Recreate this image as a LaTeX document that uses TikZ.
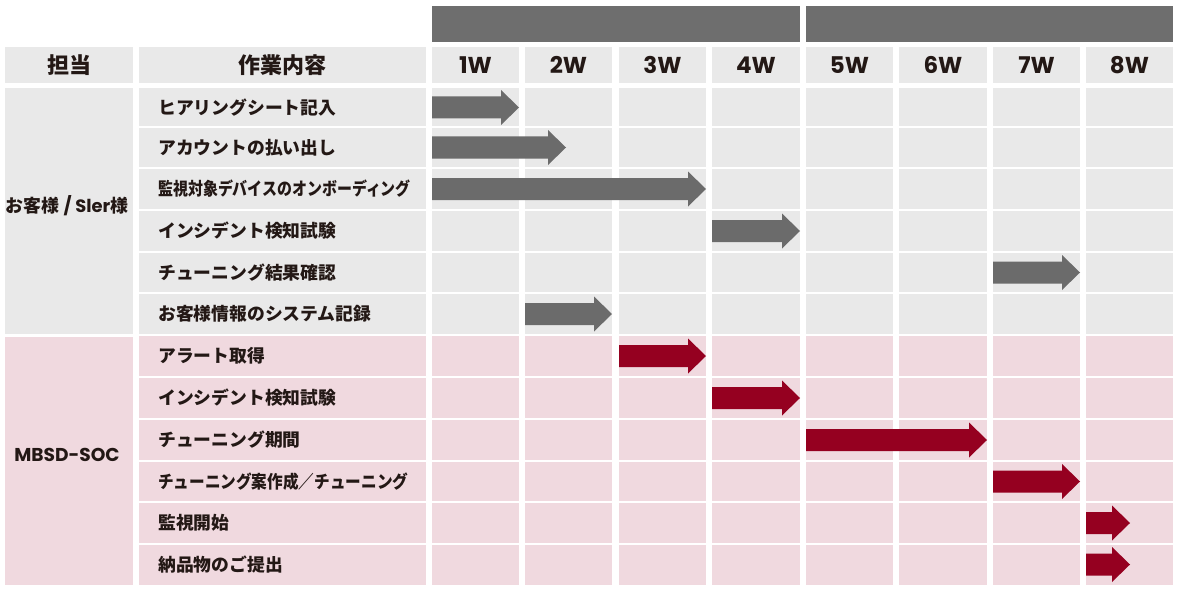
\documentclass[tikz,border=0pt]{standalone}
\usepackage{fontspec}
\usepackage{graphicx}
\setmainfont{Noto Sans CJK JP}
\newfontfamily\lat{Poppins}
\definecolor{cellgray}{HTML}{E9E9E9}
\definecolor{cellpink}{HTML}{F0D9DF}
\definecolor{bardark}{HTML}{6E6E6E}
\definecolor{arrgray}{HTML}{6B6B6B}
\definecolor{arrred}{HTML}{950020}
\definecolor{ink}{HTML}{231815}
\newcommand\garrow[4]{\fill[#1] (#3,#2-11) -- (#4-18,#2-11) -- (#4-18,#2-17.5) -- (#4,#2) -- (#4-18,#2+17.5) -- (#4-18,#2+11) -- (#3,#2+11) -- cycle;}
\tikzset{
  task/.style={anchor=west, inner sep=0pt, text=ink, font=\fontsize{17.8}{21}\selectfont\bfseries},
  head/.style={inner sep=0pt, text=ink, font=\fontsize{22}{26}\selectfont\bfseries},
  week/.style={inner sep=0pt, text=ink, font=\lat\fontsize{23}{26}\selectfont\bfseries},
  group/.style={inner sep=0pt, text=ink, font=\fontsize{17.9}{21}\selectfont\bfseries},
}
\begin{document}
\begin{tikzpicture}[x=1pt,y=-1pt]
\useasboundingbox (0,0) rectangle (1180,591);
\fill[white] (0,0) rectangle (1180,591);
% top bars
\fill[bardark] (432,6) rectangle (800,42);
\fill[bardark] (806,6) rectangle (1173,42);
% header cells
\foreach \a/\b in {5/133,139/426,432/519,525/612,619/706,712/800,806/893,899/987,993/1080,1086/1173}
  \fill[cellgray] (\a,47) rectangle (\b,83);
% body cells
\foreach \a/\b in {139/426,432/519,525/612,619/706,712/800,806/893,899/987,993/1080,1086/1173}{
  \fill[cellgray] (\a,88) rectangle (\b,335);
  \fill[cellpink] (\a,335) rectangle (\b,585);
}
\fill[cellgray] (5,88) rectangle (133,333.5);
\fill[cellpink] (5,336.5) rectangle (133,585);
\foreach \y in {127,168,210,252,293,377,419,461,502,544}
  \draw[white, line width=1.5pt] (139,\y) -- (1175,\y);
\draw[white, line width=2.5pt] (139,335) -- (1175,335);
% header texts
\node[head] (h1) at (69,65) {担当};
\node[head] (h2) at (282.5,65) {作業内容};
\node[week] (w1) at (475.5,65) {1W};
\node[week] (w2) at (568.5,65) {2W};
\node[week] (w3) at (662.5,65) {3W};
\node[week] (w4) at (756,65) {4W};
\node[week] (w5) at (849.5,65) {5W};
\node[week] (w6) at (943,65) {6W};
\node[week] (w7) at (1036.5,65) {7W};
\node[week] (w8) at (1129.5,65) {8W};
% group labels
\node[group] (g1) at (67,206) {お客様 {\lat / Sler}様};
\node[group] (g2) at (67,455) {\lat\fontsize{18.6}{21}\selectfont MBSD-SOC};
% task labels
\node[task] (t1) at (158,107.5) {ヒアリングシート記入};
\node[task] (t2) at (158,147.5) {アカウントの払い出し};
\node[task] (t3) at (158,189) {\scalebox{0.84}[1]{監視対象デバイスのオンボーディング}};
\node[task] (t4) at (158,231) {インシデント検知試験};
\node[task] (t5) at (158,272.5) {チューニング結果確認};
\node[task] (t6) at (158,314) {お客様情報のシステム記録};
\node[task] (t7) at (158,356) {アラート取得};
\node[task] (t8) at (158,398) {インシデント検知試験};
\node[task] (t9) at (158,440) {チューニング期間};
\node[task] (t10) at (158,481.5) {\scalebox{0.878}[1]{チューニング案作成／チューニング}};
\node[task] (t11) at (158,523) {監視開始};
\node[task] (t12) at (158,564.5) {納品物のご提出};
% arrows
\garrow{arrgray}{107.5}{432}{519}
\garrow{arrgray}{147.5}{432}{566}
\garrow{arrgray}{189}{432}{706}
\garrow{arrgray}{231}{712}{800}
\garrow{arrgray}{272.5}{993}{1080}
\garrow{arrgray}{314}{525}{612}
\garrow{arrred}{356}{619}{706}
\garrow{arrred}{398}{712}{800}
\garrow{arrred}{440}{806}{987}
\garrow{arrred}{481.5}{993}{1080}
\garrow{arrred}{523}{1086}{1130}
\garrow{arrred}{564.5}{1086}{1130}
\end{tikzpicture}
\end{document}
